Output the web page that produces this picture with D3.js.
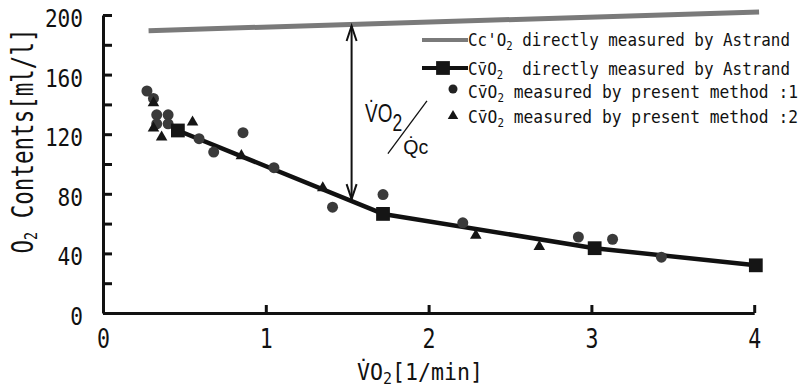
<!DOCTYPE html>
<html>
<head>
<meta charset="utf-8">
<script src="https://cdn.jsdelivr.net/npm/d3@7"></script>
<style>
  html, body { margin: 0; padding: 0; background: #fff; }
  svg { display: block; }
</style>
</head>
<body>
<svg id="chart" width="804" height="388"></svg>
<script>
// End-capillary O2 content (Astrand), straight line across the range
const ccO2X = [0.28, 4.03];
const ccO2Y = [189.5, 202];

// Mixed venous O2 content measured directly by Astrand
const astrandX = [0.46, 1.72, 3.02, 4.01];
const astrandY = [122.5, 66.5, 43.5, 32];

// Mixed venous O2 content, present method :1 (circles)
const method1X = [0.27, 0.31, 0.33, 0.40, 0.33, 0.40, 0.59, 0.68, 0.86, 1.05, 1.41, 1.72, 2.21, 2.92, 3.13, 3.43];
const method1Y = [149, 144, 133, 133, 127, 127, 117, 108, 121, 97.5, 71, 79.5, 60.5, 51, 49.5, 37.5];

// Mixed venous O2 content, present method :2 (triangles)
const method2X = [0.31, 0.31, 0.36, 0.55, 0.85, 1.35, 2.29, 2.68];
const method2Y = [141, 124, 118, 128, 105.5, 84, 52, 44.5];

const xTicks = [0, 1, 2, 3, 4];
const yTicks = [0, 20, 40, 60, 80, 100, 120, 140, 160, 180, 200];
const yTickLabels = [0, 40, 80, 120, 160, 200];

// Where the vertical difference arrow is drawn
const arrowX = 1.527;

// Legend rows: text before subscript, subscript, text after
const legendPre = ["Cc'O", "Cv\u0304O", "Cv\u0304O", "Cv\u0304O"];
const legendPost = [" directly measured by Astrand", "  directly measured by Astrand",
                    " measured by present method :1", " measured by present method :2"];

const svg = d3.select("#chart");
const x = d3.scaleLinear().domain([0, 4]).range([103, 754.2]);
const y = d3.scaleLinear().domain([0, 200]).range([313, 15]);

const mono = "'DejaVu Sans Mono', 'Liberation Mono', monospace";
const sans = "'Liberation Sans', Arial, sans-serif";

// ---- axes ----
const yAxis = d3.axisLeft(y)
  .tickValues(yTicks)
  .tickSize(-9)
  .tickSizeOuter(0)
  .tickPadding(20)
  .tickFormat(d => yTickLabels.includes(d) ? String(d) : "");
const gy = svg.append("g").attr("transform", `translate(${x(0)},0)`).call(yAxis);
gy.select(".domain").attr("stroke", "#111").attr("stroke-width", 3);
gy.selectAll(".tick line").attr("stroke", "#111").attr("stroke-width", 3);
gy.selectAll(".tick text")
  .attr("font-family", mono).attr("font-size", 24).attr("fill", "#111")
  .attr("dy", "0.48em")
  .each(function(d) {
    const t = d3.select(this).text();
    if (t.length) d3.select(this).attr("textLength", t.length * 12.7).attr("lengthAdjust", "spacingAndGlyphs");
  });

const xAxis = d3.axisBottom(x)
  .tickValues(xTicks)
  .tickSize(-8)
  .tickSizeOuter(0)
  .tickFormat(d3.format("d"));
const gx = svg.append("g").attr("transform", `translate(0,${y(0)})`).call(xAxis);
gx.select(".domain").attr("stroke", "#111").attr("stroke-width", 3);
gx.selectAll(".tick line").attr("stroke", "#111").attr("stroke-width", 3);
gx.selectAll(".tick text")
  .attr("font-family", mono).attr("font-size", 27).attr("fill", "#111")
  .attr("y", 35).attr("dy", 0)
  .attr("textLength", 13).attr("lengthAdjust", "spacingAndGlyphs");

// ---- axis titles ----
const yTitle = svg.append("text")
  .attr("transform", `translate(33,${(y(0) + y(200)) / 2 - 23}) rotate(-90)`)
  .attr("text-anchor", "middle")
  .attr("font-family", mono).attr("font-size", 30).attr("fill", "#111")
  .attr("textLength", 225).attr("lengthAdjust", "spacingAndGlyphs");
yTitle.append("tspan").text("O");
yTitle.append("tspan").attr("font-size", 18).attr("dy", 4).text("2");
yTitle.append("tspan").attr("dy", -4).text(" Contents[ml/l]");

const xTitle = svg.append("text")
  .attr("x", 357).attr("y", 380)
  .attr("font-family", mono).attr("font-size", 23).attr("fill", "#111")
  .attr("textLength", 126).attr("lengthAdjust", "spacingAndGlyphs");
xTitle.append("tspan").text("V\u0307O");
xTitle.append("tspan").attr("font-size", 16).attr("dy", 4).text("2");
xTitle.append("tspan").attr("dy", -4).text("[1/min]");

// ---- lines ----
const line = d3.line().x(d => x(d[0])).y(d => y(d[1]));

svg.append("path")
  .datum(d3.zip(ccO2X, ccO2Y))
  .attr("d", line)
  .attr("fill", "none").attr("stroke", "#7a7a7a").attr("stroke-width", 5);

svg.append("path")
  .datum(d3.zip(astrandX, astrandY))
  .attr("d", line)
  .attr("fill", "none").attr("stroke", "#111").attr("stroke-width", 4.5)
  .attr("stroke-linejoin", "round");

// ---- difference arrow between the two curves ----
const ccAt = d3.scaleLinear().domain(ccO2X).range(ccO2Y);
const cvAt = d3.scaleLinear().domain(astrandX).range(astrandY);
const ax = x(arrowX), aTop = y(ccAt(arrowX)) + 1.5, aBot = y(cvAt(arrowX)) - 2;
const arrow = svg.append("g").attr("stroke", "#111").attr("stroke-width", 2).attr("fill", "none");
arrow.append("line").attr("x1", ax).attr("x2", ax).attr("y1", aTop).attr("y2", aBot);
arrow.append("path").attr("d", `M${ax - 5},${aTop + 15}L${ax},${aTop}L${ax + 5},${aTop + 15}`);
arrow.append("path").attr("d", `M${ax - 5},${aBot - 15}L${ax},${aBot}L${ax + 5},${aBot - 15}`);

// VO2 / Qc label beside the arrow
const frac = svg.append("g").attr("fill", "#111").attr("font-family", sans);
const num = frac.append("text").attr("x", x(1.61)).attr("y", y(128))
  .attr("font-size", 26).attr("textLength", 37).attr("lengthAdjust", "spacingAndGlyphs");
num.append("tspan").text("V\u0307O");
num.append("tspan").attr("font-size", 24).attr("dy", 9).text("2");
frac.append("line")
  .attr("x1", x(1.75)).attr("y1", y(107)).attr("x2", x(1.99)).attr("y2", y(142.3))
  .attr("stroke", "#111").attr("stroke-width", 1.3);
frac.append("text").attr("x", x(1.845)).attr("y", y(107))
  .attr("font-size", 21).attr("textLength", 25).attr("lengthAdjust", "spacingAndGlyphs")
  .text("Q\u0307c");

// ---- markers ----
svg.append("g").selectAll("circle")
  .data(d3.zip(method1X, method1Y))
  .join("circle")
  .attr("cx", d => x(d[0])).attr("cy", d => y(d[1]))
  .attr("r", 5.5).attr("fill", "#3a3a3a");

const tri = d3.symbol(d3.symbolTriangle).size(58);
svg.append("g").selectAll("path")
  .data(d3.zip(method2X, method2Y))
  .join("path")
  .attr("transform", d => `translate(${x(d[0])},${y(d[1])})`)
  .attr("d", tri).attr("fill", "#151515");

const sq = d3.symbol(d3.symbolSquare).size(190);
svg.append("g").selectAll("path")
  .data(d3.zip(astrandX, astrandY))
  .join("path")
  .attr("transform", d => `translate(${x(d[0])},${y(d[1])})`)
  .attr("d", sq).attr("fill", "#151515");

// ---- legend ----
const legend = svg.append("g");
const rowBase = [46, 75, 98, 123];
const rowMid = [40, 68, 89, 115];
const rowLen = [322, 322, 330, 330];

legend.append("line").attr("x1", 422).attr("x2", 468).attr("y1", rowMid[0]).attr("y2", rowMid[0])
  .attr("stroke", "#7a7a7a").attr("stroke-width", 4);
legend.append("line").attr("x1", 422).attr("x2", 468).attr("y1", rowMid[1]).attr("y2", rowMid[1])
  .attr("stroke", "#111").attr("stroke-width", 4);
legend.append("path").attr("transform", `translate(443,${rowMid[1]})`).attr("d", sq).attr("fill", "#151515");
legend.append("circle").attr("cx", 453).attr("cy", rowMid[2]).attr("r", 4.5).attr("fill", "#222");
legend.append("path").attr("transform", `translate(453,${rowMid[3] + 1})`)
  .attr("d", d3.symbol(d3.symbolTriangle).size(48)).attr("fill", "#151515");

legendPre.forEach((pre, i) => {
  const t = legend.append("text")
    .attr("x", 468).attr("y", rowBase[i])
    .attr("font-family", mono).attr("font-size", 18).attr("fill", "#111")
    .attr("textLength", rowLen[i]).attr("lengthAdjust", "spacingAndGlyphs")
    .attr("xml:space", "preserve").style("white-space", "pre");
  t.append("tspan").text(pre);
  t.append("tspan").attr("font-size", 12).attr("dy", 4).text("2");
  t.append("tspan").attr("dy", -4).text(legendPost[i]);
});
</script>
</body>
</html>
